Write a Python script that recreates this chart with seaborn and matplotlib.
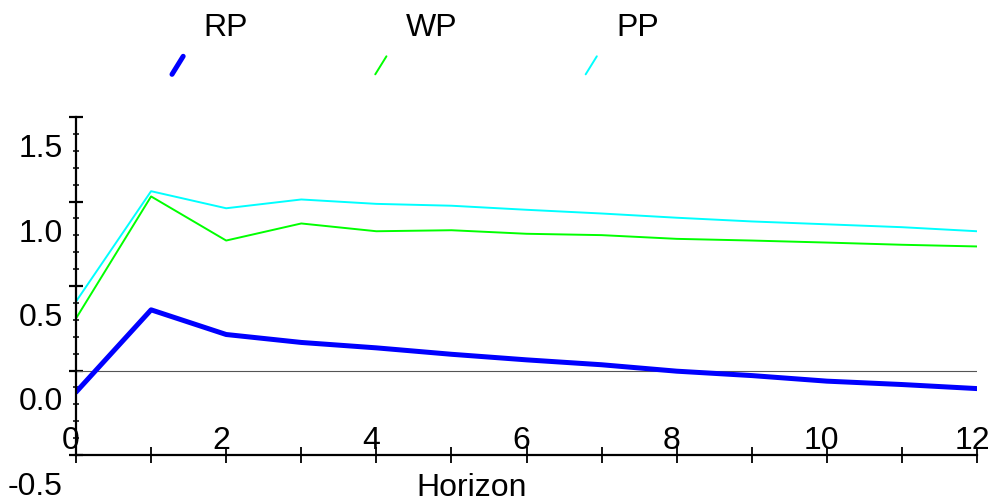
import numpy as np
import pandas as pd
import matplotlib
matplotlib.use('Agg')
import matplotlib.pyplot as plt
import matplotlib.transforms as mtransforms
from matplotlib.lines import Line2D
from matplotlib.legend_handler import HandlerLine2D
from matplotlib.ticker import MultipleLocator, FixedLocator
import seaborn as sns

sns.set_style('white')
plt.rcParams['font.family'] = ['Liberation Sans', 'DejaVu Sans']
plt.rcParams['text.color'] = 'black'

# impulse responses
horizon = list(range(13))
rp = [-0.128, 0.359, 0.213, 0.166, 0.134, 0.096, 0.063, 0.034, -0.004, -0.030, -0.063, -0.083, -0.107]
wp = [0.308, 1.030, 0.769, 0.870, 0.824, 0.830, 0.809, 0.801, 0.779, 0.769, 0.757, 0.744, 0.734]
pp = [0.408, 1.061, 0.960, 1.012, 0.986, 0.975, 0.951, 0.929, 0.904, 0.882, 0.865, 0.848, 0.824]
series_names = ['RP', 'WP', 'PP']
series_colors = ['#0000ff', '#00ff00', '#00ffff']
series_widths = [3.6, 1.4, 1.4]
y_ticks = [-0.5, 0.0, 0.5, 1.0, 1.5]
x_ticks = [0, 2, 4, 6, 8, 10, 12]

df = pd.DataFrame({'Horizon': horizon, 'RP': rp, 'WP': wp, 'PP': pp})

fig = plt.figure(figsize=(9.91, 5.01), dpi=100)
ax = fig.add_axes([76 / 991, 1 - 455 / 501, 901 / 991, 338 / 501])

ax.axhline(0, color='#555555', lw=0.8, zorder=1)
for name, col, lw in zip(series_names, series_colors, series_widths):
    sns.lineplot(data=df, x='Horizon', y=name, ax=ax, color=col, linewidth=lw, label=name)

ax.set_xlim(0, 12)
ax.set_ylim(-0.5, 1.5)
for s in ['top', 'right']:
    ax.spines[s].set_visible(False)
for s in ['left', 'bottom']:
    ax.spines[s].set_linewidth(1.6)
    ax.spines[s].set_color('black')

ax.xaxis.set_major_locator(FixedLocator(x_ticks))
ax.xaxis.set_minor_locator(MultipleLocator(1))
ax.yaxis.set_major_locator(FixedLocator(y_ticks))
ax.yaxis.set_minor_locator(MultipleLocator(0.1))
ax.set_xticklabels([str(v) for v in x_ticks])
ax.set_yticklabels(['%.1f' % v for v in y_ticks])

ax.tick_params(axis='x', which='both', bottom=True, direction='inout', length=11.5, width=1.3,
               labelsize=23, pad=-26.5, colors='black')
ax.tick_params(axis='y', which='major', left=True, direction='inout', length=10, width=1.6,
               labelsize=23, pad=4.5, colors='black')
ax.tick_params(axis='y', which='minor', left=True, direction='inout', length=4.5, width=1.1,
               colors='black')

# labels sit below/left of their ticks, as in the original
ydown = mtransforms.ScaledTranslation(0, -0.285, fig.dpi_scale_trans)
for lab in ax.get_yticklabels():
    lab.set_transform(lab.get_transform() + ydown)
xleft = mtransforms.ScaledTranslation(-0.05, 0, fig.dpi_scale_trans)
for lab in ax.get_xticklabels():
    lab.set_transform(lab.get_transform() + xleft)

ax.set_ylabel('')
ax.set_xlabel('Horizon', fontsize=23, color='black')
ax.xaxis.set_label_coords(0.439, -0.052)


class SlashHandler(HandlerLine2D):
    # short diagonal sample drawn under and left of the label
    def create_artists(self, legend, orig_handle, xdescent, ydescent, width, height, fontsize, trans):
        cy = height / 2 - ydescent - 29.5
        line = Line2D([-xdescent, -xdescent + width], [cy - 6.5, cy + 6.5],
                      color=orig_handle.get_color(), linewidth=orig_handle.get_linewidth(),
                      solid_capstyle='round')
        line.set_transform(trans)
        return [line]


handles = ax.get_lines()[1:]
leg = ax.legend(handles, series_names, handler_map={Line2D: SlashHandler()},
                ncol=3, frameon=False, fontsize=23, handlelength=0.35, handletextpad=0.62,
                columnspacing=4.0, borderpad=0, borderaxespad=0,
                loc='upper left', bbox_to_anchor=(172 / 991, 0.975),
                bbox_transform=fig.transFigure)
for t in leg.get_texts():
    t.set_color('black')

plt.savefig('out.png', dpi=100)
